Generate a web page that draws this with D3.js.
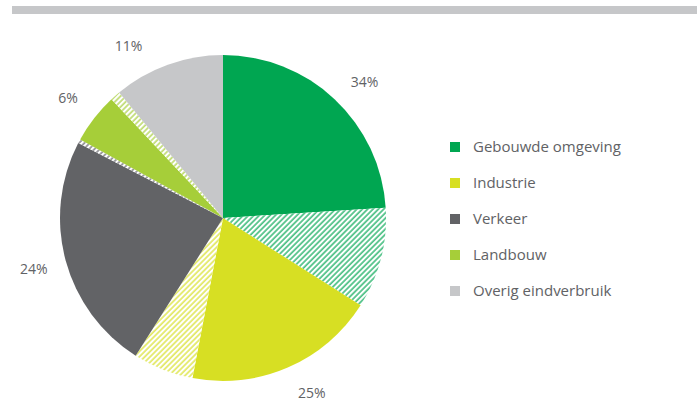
<!DOCTYPE html>
<html>
<head>
<meta charset="utf-8">
<script src="https://cdn.jsdelivr.net/npm/d3@7"></script>
<style>
  body { margin: 0; background: #fff; }
  text { font-family: "Open Sans", "Noto Sans", sans-serif; }
</style>
</head>
<body>
<div id="chart"></div>
<script>
// energy use per sector, solid part + hatched part of each slice

var width = 697,
    height = 402;

var categories = ["Gebouwde omgeving", "Industrie", "Verkeer", "Landbouw", "Overig eindverbruik"];
var colors     = ["#00a651", "#d7df23", "#626366", "#a6ce39", "#c6c7c9"];
var totals     = [34, 25, 24, 6, 11];        // label values
var solidPart  = [24, 19, 23.6, 5, 11];      // solid share
var hatchPart  = [10, 6, 0.4, 1, 0];         // hatched share

var cx = 223, cy = 218, radius = 163;
var labelRadius = 196;
var labelNudge = [3, -3.5, 0, 0, -9];        // degrees, label tweak

var svg = d3.select("#chart").append("svg")
    .attr("width", width)
    .attr("height", height);

// top grey bar
svg.append("rect")
    .attr("x", 12).attr("y", 6)
    .attr("width", width - 12).attr("height", 8)
    .attr("fill", "#c6c7c9");

// hatch patterns
var defs = svg.append("defs");
colors.forEach(function(c, i) {
    var p = defs.append("pattern")
        .attr("id", "hatch" + i)
        .attr("patternUnits", "userSpaceOnUse")
        .attr("width", 3.8).attr("height", 3.8)
        .attr("patternTransform", "rotate(45)");
    p.append("rect").attr("width", 3.8).attr("height", 3.8).attr("fill", "#fff");
    p.append("line")
        .attr("x1", 1).attr("y1", 0).attr("x2", 1).attr("y2", 3.8)
        .attr("stroke", c).attr("stroke-width", 1.2);
});

// build pieces: solid then hatched per category
var pieces = [];
categories.forEach(function(name, i) {
    pieces.push({ cat: i, hatch: false, value: solidPart[i] });
    if (hatchPart[i] > 0) pieces.push({ cat: i, hatch: true, value: hatchPart[i] });
});

var pie = d3.pie().sort(null).value(function(d) { return d.value; });
var arcs = pie(pieces);

var arc = d3.arc().innerRadius(0).outerRadius(radius);

var g = svg.append("g").attr("transform", "translate(" + cx + "," + cy + ")");

g.selectAll("path")
    .data(arcs)
    .enter().append("path")
    .attr("d", arc)
    .attr("fill", function(d) {
        return d.data.hatch ? "url(#hatch" + d.data.cat + ")" : colors[d.data.cat];
    });

// labels at the middle of the solid part
var labelArc = d3.arc().innerRadius(labelRadius).outerRadius(labelRadius);
g.selectAll("text.pct")
    .data(arcs.filter(function(d) { return !d.data.hatch; }))
    .enter().append("text")
    .attr("class", "pct")
    .attr("transform", function(d) {
        var shift = labelNudge[d.data.cat] * Math.PI / 180;
        var a = { startAngle: d.startAngle + shift, endAngle: d.endAngle + shift };
        var c = labelArc.centroid(a);
        return "translate(" + c[0] + "," + c[1] + ")";
    })
    .attr("text-anchor", "middle")
    .attr("dy", "0.35em")
    .attr("font-size", 14)
    .attr("fill", "#616265")
    .text(function(d) { return totals[d.data.cat] + "%"; });

// legend
var legend = svg.append("g").attr("transform", "translate(450,142)");
var rows = legend.selectAll("g")
    .data(categories)
    .enter().append("g")
    .attr("transform", function(d, i) { return "translate(0," + i * 36 + ")"; });

rows.append("rect")
    .attr("width", 10).attr("height", 10)
    .attr("fill", function(d, i) { return colors[i]; });

rows.append("text")
    .attr("x", 23).attr("y", 5)
    .attr("dy", "0.35em")
    .attr("font-size", 15)
    .attr("fill", "#616265")
    .text(function(d) { return d; });
</script>
</body>
</html>
